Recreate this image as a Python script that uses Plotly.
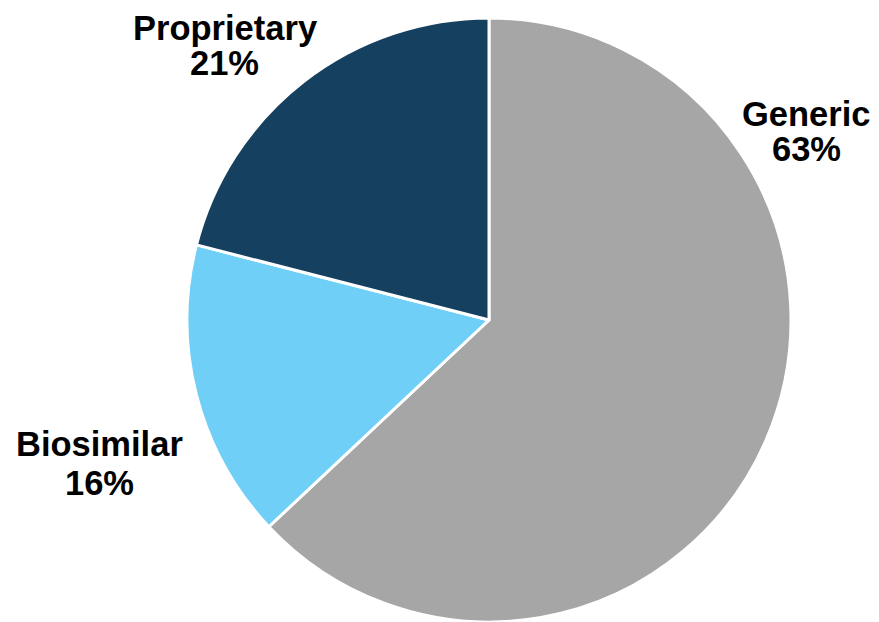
import plotly.graph_objects as go

labels = ["Generic", "Biosimilar", "Proprietary"]
values = [63, 16, 21]
colors = ["#a6a6a6", "#6fcff6", "#16405f"]

W, H = 879, 622
fig = go.Figure(go.Pie(
    labels=labels, values=values, sort=False, direction="clockwise", rotation=0,
    marker=dict(colors=colors, line=dict(color="white", width=3)),
    textinfo="none", hoverinfo="label+percent", showlegend=False,
    domain=dict(x=[187 / W, 791 / W], y=[0, 1 - 18 / H]),
))

# label positions (pixel centers of each text line)
label_pos = {
    "Proprietary": (225, 28, 63),
    "Generic": (806, 114, 149),
    "Biosimilar": (99, 444, 483),
}
font = dict(family="Liberation Sans, Arial, sans-serif", size=34.5, color="black")
anns = []
for lab, val in zip(labels, values):
    x, y1, y2 = label_pos[lab]
    for txt, yy in ((f"<b>{lab}</b>", y1), (f"<b>{val}%</b>", y2)):
        anns.append(dict(x=x / W, y=1 - yy / H, xref="paper", yref="paper",
                         text=txt, showarrow=False, font=font,
                         xanchor="center", yanchor="middle"))

fig.update_layout(width=W, height=H, margin=dict(l=0, r=0, t=0, b=0),
                  paper_bgcolor="white", plot_bgcolor="white", annotations=anns)
fig.write_html("out.html", config={"displayModeBar": False},
               post_script="document.body.style.margin='0';document.body.style.overflow='hidden';")
